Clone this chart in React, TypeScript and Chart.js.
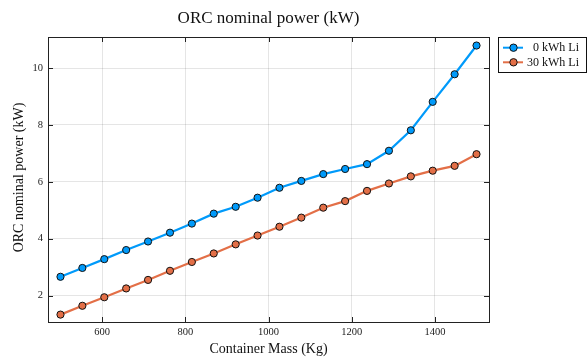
import React, { useEffect, useRef } from "react";
import { Chart, registerables } from "chart.js";

Chart.register(...registerables);

const containerMass = [
  500, 552.6, 605.3, 657.9, 710.5, 763.2, 815.8, 868.4, 921.1, 973.7,
  1026.3, 1078.9, 1131.6, 1184.2, 1236.8, 1289.5, 1342.1, 1394.7, 1447.4, 1500,
];
const power0kWh = [
  2.66, 2.97, 3.28, 3.6, 3.9, 4.21, 4.53, 4.88, 5.12, 5.44,
  5.79, 6.03, 6.27, 6.45, 6.62, 7.09, 7.81, 8.81, 9.78, 10.79,
];
const power30kWh = [
  1.33, 1.64, 1.94, 2.25, 2.55, 2.87, 3.18, 3.48, 3.8, 4.11,
  4.42, 4.74, 5.09, 5.32, 5.68, 5.94, 6.19, 6.39, 6.56, 6.97,
];
const seriesLabels = ["0 kWh Li", "30 kWh Li"];
const xTickValues = [600, 800, 1000, 1200, 1400];
const yTickValues = [2, 4, 6, 8, 10];
const titleText = "ORC nominal power (kW)";
const xTitleText = "Container Mass (Kg)";
const yTitleText = "ORC nominal power (kW)";

const BLUE = "#009AFA";
const ORANGE = "#E36F47";
const FONT = "'Liberation Serif', 'Times New Roman', serif";

export default function App() {
  const ref = useRef<HTMLCanvasElement | null>(null);

  useEffect(() => {
    document.body.style.margin = "0";
    const canvas = ref.current;
    if (!canvas) return;

    const decor = {
      id: "decor",
      afterDraw(chart: any) {
        const ctx = chart.ctx as CanvasRenderingContext2D;
        const a = chart.chartArea;
        const xs = chart.scales.x;
        const ys = chart.scales.y;
        ctx.save();
        // frame
        ctx.strokeStyle = "#222";
        ctx.lineWidth = 1;
        ctx.strokeRect(Math.round(a.left) + 0.5, Math.round(a.top) + 0.5, Math.round(a.right - a.left), Math.round(a.bottom - a.top));
        // inner ticks
        ctx.beginPath();
        xTickValues.forEach((v) => {
          const px = Math.round(xs.getPixelForValue(v)) + 0.5;
          ctx.moveTo(px, a.bottom);
          ctx.lineTo(px, a.bottom - 5);
          ctx.moveTo(px, a.top);
          ctx.lineTo(px, a.top + 5);
        });
        yTickValues.forEach((v) => {
          const py = Math.round(ys.getPixelForValue(v)) + 0.5;
          ctx.moveTo(a.left, py);
          ctx.lineTo(a.left + 5, py);
          ctx.moveTo(a.right, py);
          ctx.lineTo(a.right - 5, py);
        });
        ctx.stroke();

        // title
        ctx.fillStyle = "#111";
        ctx.textAlign = "center";
        ctx.textBaseline = "alphabetic";
        ctx.font = `17px ${FONT}`;
        ctx.fillText(titleText, (a.left + a.right) / 2, 22.5);
        // x title
        ctx.font = `14px ${FONT}`;
        ctx.fillText(xTitleText, (a.left + a.right) / 2, 352.5);
        // y title
        ctx.save();
        ctx.translate(23, (a.top + a.bottom) / 2 - 2);
        ctx.rotate(-Math.PI / 2);
        ctx.fillText(yTitleText, 0, 0);
        ctx.restore();

        // legend
        const lx = 498.5, ly = 37.5, lw = 88, lh = 35;
        ctx.fillStyle = "#fff";
        ctx.fillRect(lx, ly, lw, lh);
        ctx.strokeStyle = "#111";
        ctx.lineWidth = 1;
        ctx.strokeRect(lx, ly, lw, lh);
        const colors = [BLUE, ORANGE];
        const rows = [47.7, 62.3];
        seriesLabels.forEach((lab, i) => {
          const y = rows[i];
          ctx.strokeStyle = colors[i];
          ctx.lineWidth = 2;
          ctx.beginPath();
          ctx.moveTo(503, y);
          ctx.lineTo(523, y);
          ctx.stroke();
          ctx.beginPath();
          ctx.arc(513.5, y, 3.7, 0, Math.PI * 2);
          ctx.fillStyle = colors[i];
          ctx.fill();
          ctx.strokeStyle = "#111";
          ctx.lineWidth = 1;
          ctx.stroke();
          ctx.fillStyle = "#111";
          ctx.font = `12px ${FONT}`;
          ctx.textAlign = "right";
          ctx.textBaseline = "middle";
          ctx.fillText(lab, 579, y + 0.5);
        });
        ctx.restore();
      },
    };

    const mk = (ys: number[]) => containerMass.map((x, i) => ({ x, y: ys[i] }));

    const chart = new Chart(canvas, {
      type: "scatter",
      data: {
        datasets: [
          {
            label: seriesLabels[0],
            data: mk(power0kWh),
            showLine: true,
            borderColor: BLUE,
            backgroundColor: BLUE,
            borderWidth: 2.2,
            pointRadius: 3.6,
            pointBorderColor: "#111",
            pointBorderWidth: 1,
            pointBackgroundColor: BLUE,
          },
          {
            label: seriesLabels[1],
            data: mk(power30kWh),
            showLine: true,
            borderColor: ORANGE,
            backgroundColor: ORANGE,
            borderWidth: 2.2,
            pointRadius: 3.6,
            pointBorderColor: "#111",
            pointBorderWidth: 1,
            pointBackgroundColor: ORANGE,
          },
        ],
      },
      options: {
        responsive: false,
        animation: false,
        devicePixelRatio: 1,
        layout: { padding: { left: 0, right: 99, top: 37, bottom: 0 } },
        plugins: {
          legend: { display: false },
          title: { display: false },
          tooltip: { enabled: false },
        },
        scales: {
          x: {
            type: "linear",
            min: 470,
            max: 1530,
            afterBuildTicks: (s: any) => {
              s.ticks = xTickValues.map((v) => ({ value: v }));
            },
            afterFit: (s: any) => {
              s.height = 36;
            },
            grid: { color: "rgba(0,0,0,0.1)", lineWidth: 1, drawTicks: false },
            border: { display: false },
            ticks: {
              padding: 4,
              color: "#222",
              font: { family: FONT, size: 10.5 },
              maxRotation: 0,
              callback: (v: any) => String(v),
            },
          },
          y: {
            type: "linear",
            min: 1.07,
            max: 11.09,
            afterBuildTicks: (s: any) => {
              s.ticks = yTickValues.map((v) => ({ value: v }));
            },
            afterFit: (s: any) => {
              s.width = 48;
            },
            grid: { color: "rgba(0,0,0,0.1)", lineWidth: 1, drawTicks: false },
            border: { display: false },
            ticks: {
              padding: 5,
              color: "#222",
              font: { family: FONT, size: 10.5 },
              callback: (v: any) => String(v),
            },
          },
        },
      },
      plugins: [decor],
    } as any);

    return () => chart.destroy();
  }, []);

  return (
    <div style={{ width: 588, height: 358, background: "#fff" }}>
      <canvas ref={ref} width={588} height={358} style={{ display: "block" }} />
    </div>
  );
}
